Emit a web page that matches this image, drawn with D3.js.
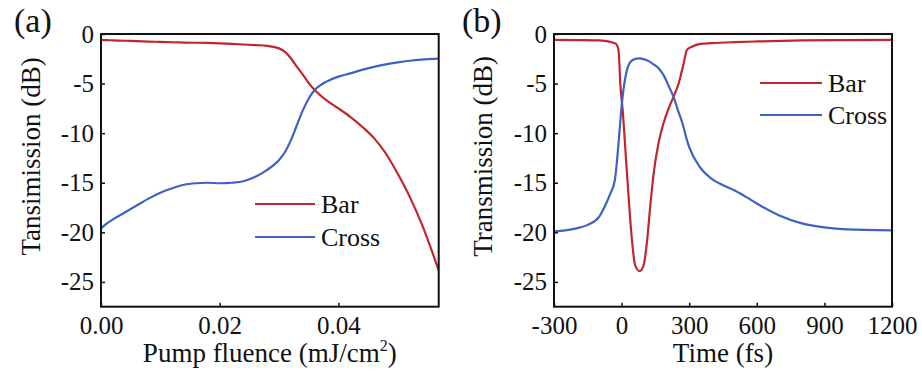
<!DOCTYPE html>
<html>
<head>
<meta charset="utf-8">
<script src="https://cdn.jsdelivr.net/npm/d3@7/dist/d3.min.js"></script>
<style>
  body { margin: 0; background: #fff; }
  svg { display: block; }
  text { font-family: "Liberation Serif", "Times New Roman", serif; fill: #111; }
</style>
</head>
<body>
<svg id="chart" width="922" height="371"></svg>
<script>
// ---------- Data ----------
// Panel (a): pump fluence (mJ/cm^2) vs transmission (dB)
const fluence = [0.000, 0.001, 0.002, 0.004, 0.006, 0.008, 0.010, 0.012, 0.014, 0.016, 0.018, 0.020, 0.022, 0.024, 0.026, 0.028, 0.030, 0.031, 0.032, 0.033, 0.034, 0.035, 0.036, 0.037, 0.038, 0.040, 0.042, 0.044, 0.046, 0.048, 0.050, 0.052, 0.054, 0.056, 0.057];
const barA = [-0.60, -0.62, -0.64, -0.68, -0.72, -0.76, -0.80, -0.83, -0.86, -0.88, -0.90, -0.94, -1.00, -1.06, -1.12, -1.20, -1.45, -1.80, -2.45, -3.30, -4.10, -4.95, -5.65, -6.20, -6.70, -7.50, -8.35, -9.35, -10.50, -12.05, -14.10, -16.40, -19.10, -22.30, -24.00];
const crossA = [-19.60, -19.10, -18.70, -18.00, -17.30, -16.60, -16.00, -15.55, -15.20, -15.05, -15.00, -15.05, -15.00, -14.85, -14.40, -13.70, -12.70, -11.90, -10.70, -9.20, -7.70, -6.50, -5.65, -5.15, -4.80, -4.30, -3.97, -3.62, -3.32, -3.06, -2.86, -2.70, -2.58, -2.50, -2.48];

// Panel (b): time (fs) vs transmission (dB)
const timeBar = [-300, -200, -100, -50, -25, -14, -5, 6, 16, 31, 46, 60, 80, 98, 112, 127, 142, 164, 186, 209, 231, 253, 275, 290, 312, 349, 400, 500, 600, 800, 1000, 1200];
const barB = [-0.60, -0.62, -0.65, -0.80, -1.00, -1.60, -5.30, -8.00, -11.40, -16.40, -20.80, -23.30, -23.90, -23.30, -21.10, -17.40, -14.10, -11.00, -9.00, -7.50, -6.30, -5.00, -3.00, -1.60, -1.28, -1.00, -0.92, -0.82, -0.75, -0.65, -0.62, -0.60];
const timeCross = [-300, -250, -200, -150, -100, -75, -50, -30, -20, -10, 0, 10, 20, 35, 55, 80, 110, 140, 170, 190, 210, 230, 250, 270, 290, 300, 350, 400, 450, 500, 550, 600, 700, 800, 900, 1000, 1200];
const crossB = [-19.90, -19.80, -19.60, -19.25, -18.45, -17.40, -16.10, -14.75, -12.70, -10.00, -7.30, -5.30, -4.00, -2.96, -2.56, -2.45, -2.63, -3.03, -3.60, -4.30, -5.30, -6.30, -7.70, -9.00, -10.70, -11.40, -13.50, -14.60, -15.25, -15.75, -16.40, -17.10, -18.30, -19.10, -19.50, -19.70, -19.80];

// Tick values / labels
const yTicks = [0, -5, -10, -15, -20, -25];
const xTicksA = [0.00, 0.02, 0.04];
const xTicksB = [-300, 0, 300, 600, 900, 1200];
const seriesNames = ["Bar", "Cross"];
const panelLabels = ["(a)", "(b)"];
const xTitles = ["Pump fluence (mJ/cm", "Time (fs)"];
const yTitles = ["Tansimission (dB)", "Transmission (dB)"];

const RED = "#c0262c";
const BLUE = "#3e62c4";

const svg = d3.select("#chart");

function panel(opts) {
  const { left, right, top, bottom, xDomain, xTicks, xFmt, series, legend, label, labelX, xTitle, yTitle, yTitleX, sup } = opts;
  const x = d3.scaleLinear().domain(xDomain).range([left, right]);
  const y = d3.scaleLinear().domain([-27.5, 0]).range([bottom, top]);
  const g = svg.append("g");

  const clipId = "clip" + Math.round(left);
  g.append("clipPath").attr("id", clipId)
    .append("rect").attr("x", left).attr("y", top).attr("width", right - left).attr("height", bottom - top);

  // curves
  const line = d3.line().x(d => x(d[0])).y(d => y(d[1])).curve(d3.curveMonotoneX);
  series.forEach(s => {
    g.append("path")
      .attr("clip-path", `url(#${clipId})`)
      .attr("d", line(s.xs.map((v, i) => [v, s.ys[i]])))
      .attr("fill", "none").attr("stroke", s.color).attr("stroke-width", 2.2)
      .attr("stroke-linejoin", "round");
  });

  // axes
  const xAxis = d3.axisBottom(x).tickValues(xTicks).tickFormat(xFmt).tickSizeInner(-4).tickSizeOuter(0).tickPadding(10);
  const yAxis = d3.axisLeft(y).tickValues(yTicks).tickFormat(d => String(d)).tickSizeInner(-4).tickSizeOuter(0).tickPadding(7);
  const gx = g.append("g").attr("transform", `translate(0,${bottom})`).call(xAxis);
  const gy = g.append("g").attr("transform", `translate(${left},0)`).call(yAxis);
  [gx, gy].forEach(a => {
    a.select(".domain").remove();
    a.selectAll(".tick line").attr("stroke", "#111").attr("stroke-width", 1.5);
    a.selectAll(".tick text").attr("font-size", 25).attr("fill", "#111");
  });

  // frame
  g.append("rect").attr("x", left).attr("y", top).attr("width", right - left).attr("height", bottom - top)
    .attr("fill", "none").attr("stroke", "#111").attr("stroke-width", 2);

  // legend
  series.forEach((s, i) => {
    const ly = legend.y + i * legend.dy;
    g.append("line").attr("x1", legend.x).attr("x2", legend.x + legend.len).attr("y1", ly).attr("y2", ly)
      .attr("stroke", s.color).attr("stroke-width", 2.2);
    g.append("text").attr("x", legend.x + legend.len + 6).attr("y", ly + 9)
      .attr("font-size", 26).text(s.name);
  });

  // titles
  const xt = g.append("text").attr("x", (left + right) / 2).attr("y", 362)
    .attr("text-anchor", "middle").attr("font-size", 27).text(xTitle);
  if (sup) {
    xt.append("tspan").attr("font-size", 16).attr("dy", -11).text("2");
    xt.append("tspan").attr("dy", 11).text(")");
  }
  g.append("text").attr("transform", `translate(${yTitleX},${(top + bottom) / 2 - 14}) rotate(-90)`)
    .attr("text-anchor", "middle").attr("font-size", 27).text(yTitle);
  g.append("text").attr("x", labelX).attr("y", 32).attr("font-size", 34).text(label);
}

panel({
  left: 101, right: 438.7, top: 34, bottom: 306.7,
  xDomain: [0, 0.0569], xTicks: xTicksA, xFmt: d3.format(".2f"),
  series: [
    { name: seriesNames[0], xs: fluence, ys: barA, color: RED },
    { name: seriesNames[1], xs: fluence, ys: crossA, color: BLUE }
  ],
  legend: { x: 255, len: 60, y: 204, dy: 33 },
  label: panelLabels[0], labelX: 14,
  xTitle: xTitles[0], sup: true,
  yTitle: yTitles[0], yTitleX: 40
});

panel({
  left: 554, right: 892, top: 34, bottom: 306.7,
  xDomain: [-300, 1200], xTicks: xTicksB, xFmt: d => String(d),
  series: [
    { name: seriesNames[0], xs: timeBar, ys: barB, color: RED },
    { name: seriesNames[1], xs: timeCross, ys: crossB, color: BLUE }
  ],
  legend: { x: 760, len: 62, y: 83, dy: 32 },
  label: panelLabels[1], labelX: 462,
  xTitle: xTitles[1], sup: false,
  yTitle: yTitles[1], yTitleX: 492
});
</script>
</body>
</html>
